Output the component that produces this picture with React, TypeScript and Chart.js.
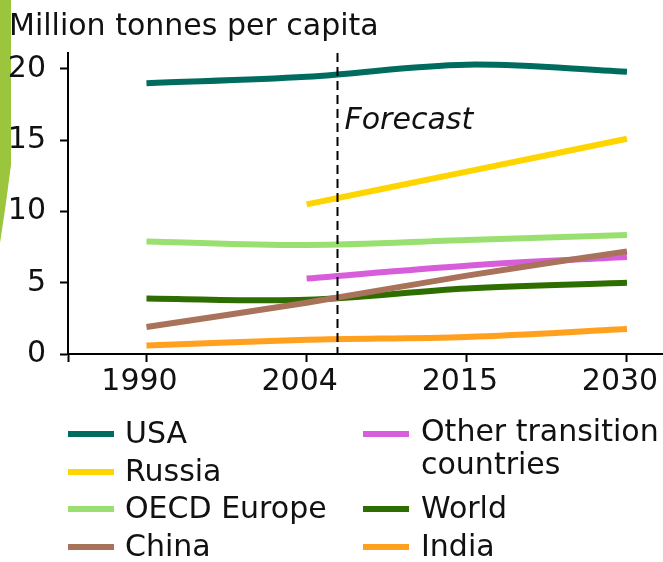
import React, { useEffect, useRef } from 'react';
import { Chart, registerables } from 'chart.js';

Chart.register(...registerables);

// ---- data ----
const years = ['1990', '2004', '2015', '2030'];
const yTicks = [0, 5, 10, 15, 20];
const titleText = 'Million tonnes per capita';
const forecastText = 'Forecast';
const forecastStart = 1.19; // category-index position of the forecast divider

const seriesLabels = ['USA', 'Russia', 'OECD Europe', 'China', 'Other transition countries', 'World', 'India'];
const usa = [19.0, 19.45, 20.3, 19.8];
const russia = [null, 10.5, 12.8, 15.1];
const oecdEurope = [7.9, 7.65, 8.0, 8.35];
const china = [1.9, 3.6, 5.5, 7.2];
const otherTransition = [null, 5.3, 6.2, 6.8];
const world = [3.9, 3.8, 4.6, 5.0];
const india = [0.6, 1.0, 1.2, 1.75];
const seriesValues = [usa, russia, oecdEurope, china, otherTransition, world, india];
const seriesColors = ['#006b5f', '#ffd500', '#9ae070', '#a8735a', '#d85ddb', '#2e6d00', '#ffa01f'];

// legend layout: [series index, row] per column
const legendColumns = [
  { lineX: 68, textX: 125, items: [[0, 0], [1, 1], [2, 2], [3, 3]] },
  { lineX: 363, textX: 421, items: [[4, 0], [5, 2], [6, 3]] },
];

const FONT = '"DejaVu Sans", Verdana, sans-serif';
const TEXT = '#111111';

const decorationPlugin = {
  id: 'decoration',
  beforeDraw(chart: any) {
    const ctx = chart.ctx;
    ctx.save();
    ctx.fillStyle = '#ffffff';
    ctx.fillRect(0, 0, chart.width, chart.height);
    ctx.fillStyle = '#9bc53d';
    ctx.beginPath();
    ctx.moveTo(0, 0);
    ctx.lineTo(11, 0);
    ctx.lineTo(11, 165);
    ctx.quadraticCurveTo(6, 205, 0, 243);
    ctx.closePath();
    ctx.fill();
    ctx.fillStyle = TEXT;
    ctx.font = `30px ${FONT}`;
    ctx.textBaseline = 'alphabetic';
    ctx.textAlign = 'left';
    ctx.fillText(titleText, 9, 35);
    ctx.restore();
  },
};

const forecastPlugin = {
  id: 'forecast',
  afterDatasetsDraw(chart: any) {
    const ctx = chart.ctx;
    const { top, bottom } = chart.chartArea;
    const x = Math.round(chart.scales.x.getPixelForValue(forecastStart)) + 0.5;
    ctx.save();
    ctx.strokeStyle = '#000';
    ctx.lineWidth = 2;
    ctx.setLineDash([9, 5]);
    ctx.beginPath();
    ctx.moveTo(x, top);
    ctx.lineTo(x, bottom);
    ctx.stroke();
    ctx.setLineDash([]);
    ctx.fillStyle = TEXT;
    ctx.font = `italic 30px ${FONT}`;
    ctx.textBaseline = 'alphabetic';
    ctx.fillText(forecastText, x + 7, top + 76);
    ctx.restore();
  },
};

function wrap(ctx: CanvasRenderingContext2D, text: string, maxW: number): string[] {
  const words = text.split(' ');
  const lines: string[] = [];
  let cur = '';
  for (const w of words) {
    const t = cur ? cur + ' ' + w : w;
    if (cur && ctx.measureText(t).width > maxW) {
      lines.push(cur);
      cur = w;
    } else cur = t;
  }
  if (cur) lines.push(cur);
  return lines;
}

const legendPlugin = {
  id: 'customLegend',
  afterDraw(chart: any) {
    const ctx = chart.ctx;
    ctx.save();
    ctx.font = `30px ${FONT}`;
    ctx.textBaseline = 'alphabetic';
    ctx.textAlign = 'left';
    const rowY = (r: number) => 434 + r * 37.7;
    for (const col of legendColumns) {
      for (const [si, row] of col.items) {
        const ds = chart.data.datasets[si];
        const cy = Math.round(rowY(row));
        ctx.strokeStyle = ds.borderColor;
        ctx.lineWidth = 6;
        ctx.beginPath();
        ctx.moveTo(col.lineX, cy);
        ctx.lineTo(col.lineX + 46, cy);
        ctx.stroke();
        ctx.fillStyle = TEXT;
        const lines = wrap(ctx, ds.label, 300);
        lines.forEach((ln, i) => {
          const base = lines.length > 1 ? cy + 7 : cy + 9;
          ctx.fillText(ln, col.textX, base + i * 33);
        });
      }
    }
    ctx.restore();
  },
};

export default function App() {
  const ref = useRef<HTMLCanvasElement>(null);

  useEffect(() => {
    document.body.style.margin = '0';
    document.body.style.overflow = 'hidden';
    const canvas = ref.current;
    if (!canvas) return;
    const datasets = seriesLabels.map((label, si) => ({
      label,
      data: seriesValues[si]
        .map((v, i) => (v === null ? null : { x: i, y: v }))
        .filter((p) => p !== null),
      borderColor: seriesColors[si],
      backgroundColor: seriesColors[si],
      borderWidth: 6,
      pointRadius: 0,
      pointHoverRadius: 0,
      tension: 0.35,
      fill: false,
      borderCapStyle: 'butt',
    }));

    const chart = new Chart(canvas, {
      type: 'line',
      data: { datasets } as any,
      options: {
        responsive: false,
        animation: false,
        events: [],
        layout: { padding: { top: 53, bottom: 160, left: 0, right: 0 } },
        plugins: { legend: { display: false }, tooltip: { enabled: false }, title: { display: false } },
        scales: {
          x: {
            type: 'linear',
            min: -0.49,
            max: 3.225,
            afterBuildTicks: (s: any) => {
              s.ticks = [{ value: -0.49 }, ...years.map((_, i) => ({ value: i }))];
            },
            afterFit: (s: any) => {
              s.height = 48;
              s.paddingLeft = 0;
              s.paddingRight = 0;
            },
            ticks: {
              callback: (v: any) => (Number.isInteger(v) ? years[v] : ''),
              font: { size: 30, family: FONT },
              color: TEXT,
              padding: 2,
              labelOffset: -7,
              maxRotation: 0,
              autoSkip: false,
            },
            grid: { drawOnChartArea: false, drawTicks: true, tickLength: 8, tickWidth: 2, tickColor: '#000' },
            border: { display: true, color: '#000', width: 2 },
          },
          y: {
            type: 'linear',
            min: 0,
            max: 21.12,
            afterBuildTicks: (s: any) => {
              s.ticks = yTicks.map((v) => ({ value: v }));
            },
            afterFit: (s: any) => {
              s.width = 68;
              s.paddingTop = 0;
              s.paddingBottom = 0;
            },
            ticks: { font: { size: 30, family: FONT }, color: TEXT, padding: 14 },
            grid: { drawOnChartArea: false, drawTicks: true, tickLength: 8, tickWidth: 2, tickColor: '#000' },
            border: { display: true, color: '#000', width: 2 },
          },
        },
      } as any,
      plugins: [decorationPlugin, forecastPlugin, legendPlugin],
    });
    return () => chart.destroy();
  }, []);

  return (
    <div style={{ width: 663, height: 562, overflow: 'hidden' }}>
      <canvas ref={ref} width={663} height={562} style={{ display: 'block', width: 663, height: 562 }} />
    </div>
  );
}
